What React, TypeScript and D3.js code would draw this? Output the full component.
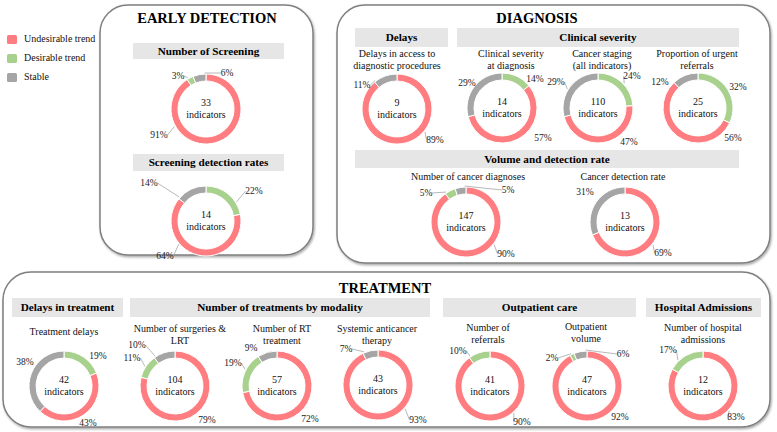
import React from "react";
import * as d3 from "d3";

// ---------- DATA ----------
const legendLabels = ["Undesirable trend", "Desirable trend", "Stable"];
const sectionTitles = ["EARLY DETECTION", "DIAGNOSIS", "TREATMENT"];
const headerLabels = [
  "Number of Screening",
  "Screening detection rates",
  "Delays",
  "Clinical severity",
  "Volume and detection rate",
  "Delays in treatment",
  "Number of treatments by modality",
  "Outpatient care",
  "Hospital Admissions",
];
const donutSubtitles: string[][] = [
  [],
  [],
  ["Delays in access to", "diagnostic procedures"],
  ["Clinical severity", "at diagnosis"],
  ["Cancer staging", "(all indicators)"],
  ["Proportion of urgent", "referrals"],
  ["Number of cancer diagnoses"],
  ["Cancer detection rate"],
  ["Treatment delays"],
  ["Number of surgeries &", "LRT"],
  ["Number of RT", "treatment"],
  ["Systemic anticancer", "therapy"],
  ["Number of", "referrals"],
  ["Outpatient", "volume"],
  ["Number of hospital", "admissions"],
];
const indicatorCounts = [33, 14, 9, 14, 110, 25, 147, 13, 42, 104, 57, 43, 41, 47, 12];
const undesirable = [91, 64, 89, 57, 47, 56, 90, 69, 43, 79, 72, 93, 90, 92, 83];
const desirable = [3, 22, 0, 14, 24, 32, 5, 0, 19, 11, 19, 0, 10, 2, 17];
const stable = [6, 14, 11, 29, 29, 12, 5, 31, 38, 10, 9, 7, 0, 6, 0];
const desirableFirst = [false, true, false, true, true, true, false, false, true, false, false, false, false, false, false];

// ---------- LAYOUT / STYLE ----------
const W = 777, H = 432;
const COLORS: Record<string, string> = { U: "#FF7C80", D: "#A9D18E", S: "#A5A5A5" };
const FONT = "Liberation Serif";
const R_OUT = 35, R_IN = 28;

const boxes = [
  { x: 100, y: 5, w: 213, h: 250 },
  { x: 337, y: 5, w: 433, h: 258 },
  { x: 3, y: 272, w: 767, h: 155 },
];
const titlePos = [[207, 23], [537, 23], [385, 293]];
const headerRects = [
  [133, 284, 43, 59],
  [133, 284, 154, 171],
  [355, 448, 28, 47],
  [457, 739, 28, 47],
  [355, 739, 150, 168],
  [12, 123, 298, 317],
  [130, 430, 298, 317],
  [443, 636, 298, 317],
  [646, 761, 298, 317],
];
type LP = [number, number, boolean];
const donutLayout: { c: [number, number]; sub: [number, number]; U?: LP; D?: LP; S?: LP }[] = [
  { c: [206, 109], sub: [0, 0], U: [-47, 26, true], D: [-28, -33, true], S: [21, -36, true] },
  { c: [206, 221], sub: [0, 0], U: [-41, 35, true], D: [48, -30, true], S: [-57, -38, true] },
  { c: [397, 109], sub: [397, 57], U: [38, 31, true], S: [-35, -24, true] },
  { c: [502, 108], sub: [511, 57], U: [41, 30, false], D: [33, -29, false], S: [-35, -25, false] },
  { c: [598, 108], sub: [602, 57], U: [31, 34, false], D: [34, -32, true], S: [-42, -26, true] },
  { c: [698, 108], sub: [697, 57], U: [35, 30, false], D: [40, -21, false], S: [-38, -26, false] },
  { c: [466, 222], sub: [468, 180], U: [40, 32, true], D: [-40, -29, true], S: [42, -32, true] },
  { c: [625, 222], sub: [623, 180], U: [38, 31, true], S: [-40, -30, false] },
  { c: [64, 386], sub: [64, 335], U: [24, 37, false], D: [34, -30, false], S: [-39, -24, false] },
  { c: [175, 386], sub: [180, 332], U: [32, 34, false], D: [-43, -28, true], S: [-38, -41, true] },
  { c: [277, 386], sub: [282, 332], U: [33, 33, false], D: [-44, -23, true], S: [-26, -38, false] },
  { c: [378, 385], sub: [377, 332], U: [40, 35, true], S: [-32, -36, true] },
  { c: [490, 386], sub: [488, 331], U: [32, 36, true], D: [-32, -35, true] },
  { c: [587, 386], sub: [586, 330], U: [33, 31, false], D: [-35, -28, true], S: [36, -32, true] },
  { c: [703, 386], sub: [703, 331], U: [33, 31, true], D: [-35, -36, true] },
];

type Seg = { key: "U" | "D" | "S"; value: number };
const txt = (size: number, bold = false): React.CSSProperties => ({
  fontFamily: FONT,
  fontSize: size,
  fontWeight: bold ? 700 : 400,
});

function Donut({ i }: { i: number }) {
  const lay = donutLayout[i];
  const [cx, cy] = lay.c;
  const order: ("U" | "D" | "S")[] = desirableFirst[i] ? ["D", "U", "S"] : ["U", "D", "S"];
  const vals: Record<string, number> = { U: undesirable[i], D: desirable[i], S: stable[i] };
  const segs: Seg[] = order.map((k) => ({ key: k, value: vals[k] })).filter((s) => s.value > 0);
  const pie = d3.pie<Seg>().sort(null).value((d) => d.value).startAngle(0).endAngle(2 * Math.PI);
  const arcs = pie(segs);
  const arc = d3.arc<d3.PieArcDatum<Seg>>().innerRadius(R_IN).outerRadius(R_OUT);
  const subs = donutSubtitles[i];
  return (
    <g>
      {subs.map((s, j) => (
        <text key={j} x={lay.sub[0]} y={lay.sub[1] + j * 11.5} textAnchor="middle" style={txt(10)} fill="#111">
          {s}
        </text>
      ))}
      <g transform={`translate(${cx},${cy})`}>
        {arcs.map((a) => (
          <path key={a.data.key} d={arc(a) || ""} fill={COLORS[a.data.key]} stroke="#fff" strokeWidth={1} />
        ))}
        <text x={0} y={-3} textAnchor="middle" style={txt(10)} fill="#111">
          {indicatorCounts[i]}
        </text>
        <text x={0} y={8.5} textAnchor="middle" style={txt(10)} fill="#111">
          indicators
        </text>
        {arcs.map((a) => {
          const lp = (lay as any)[a.data.key] as LP | undefined;
          if (!lp) return null;
          const [lx, ly, leader] = lp;
          const label = `${a.data.value}%`;
          const w = label.length * 4.6;
          let line = null;
          if (leader) {
            let ang = Math.atan2(lx, -ly);
            if (ang < 0) ang += 2 * Math.PI;
            const pad = 0.04;
            const lo = a.startAngle + pad, hi = Math.max(a.endAngle - pad, lo);
            let t = ang;
            if (t < lo || t > hi) {
              const dist = (x: number) => {
                const d = Math.abs(x - t) % (2 * Math.PI);
                return Math.min(d, 2 * Math.PI - d);
              };
              t = dist(lo) < dist(hi) ? lo : hi;
            }
            const px = Math.sin(t) * (R_OUT + 1);
            const py = -Math.cos(t) * (R_OUT + 1);
            const ex = lx < px ? lx + w / 2 + 1.5 : lx - w / 2 - 1.5;
            const ey = ly;
            line = <line x1={px} y1={py} x2={ex} y2={ey} stroke="#A6A6A6" strokeWidth={0.8} />;
          }
          return (
            <g key={"l" + a.data.key}>
              {line}
              <text x={lx} y={ly} dy="0.35em" textAnchor="middle" style={txt(9.5)} fill="#222">
                {label}
              </text>
            </g>
          );
        })}
      </g>
    </g>
  );
}

export default function App() {
  return (
    <svg width={W} height={H} viewBox={`0 0 ${W} ${H}`} style={{ position: "absolute", left: 0, top: 0, background: "#fff" }}>
      <defs>
        <filter id="sh" x="-5%" y="-5%" width="110%" height="115%">
          <feDropShadow dx="1" dy="1.5" stdDeviation="1.2" floodColor="#000" floodOpacity="0.35" />
        </filter>
      </defs>
      <rect x={0} y={0} width={W} height={H} fill="#fff" />
      {boxes.map((b, i) => (
        <rect key={i} x={b.x} y={b.y} width={b.w} height={b.h} rx={28} ry={28} fill="#fff" stroke="#7F7F7F" strokeWidth={1.5} filter="url(#sh)" />
      ))}
      {sectionTitles.map((t, i) => (
        <text key={t} x={titlePos[i][0]} y={titlePos[i][1]} textAnchor="middle" style={txt(14.5, true)} fill="#000">
          {t}
        </text>
      ))}
      {headerLabels.map((h, i) => {
        const [x1, x2, y1, y2] = headerRects[i];
        return (
          <g key={h}>
            <rect x={x1} y={y1} width={x2 - x1} height={y2 - y1} fill="#E7E6E6" />
            <text x={(x1 + x2) / 2} y={(y1 + y2) / 2} dy="0.35em" textAnchor="middle" style={txt(11.2, true)} fill="#000">
              {h}
            </text>
          </g>
        );
      })}
      {legendLabels.map((l, i) => (
        <g key={l}>
          <rect x={7} y={35 + i * 19} width={10} height={9} rx={1.5} fill={COLORS[["U", "D", "S"][i]]} />
          <text x={24} y={42 + i * 19} style={txt(10)} fill="#111">
            {l}
          </text>
        </g>
      ))}
      {indicatorCounts.map((_, i) => (
        <Donut key={i} i={i} />
      ))}
    </svg>
  );
}
